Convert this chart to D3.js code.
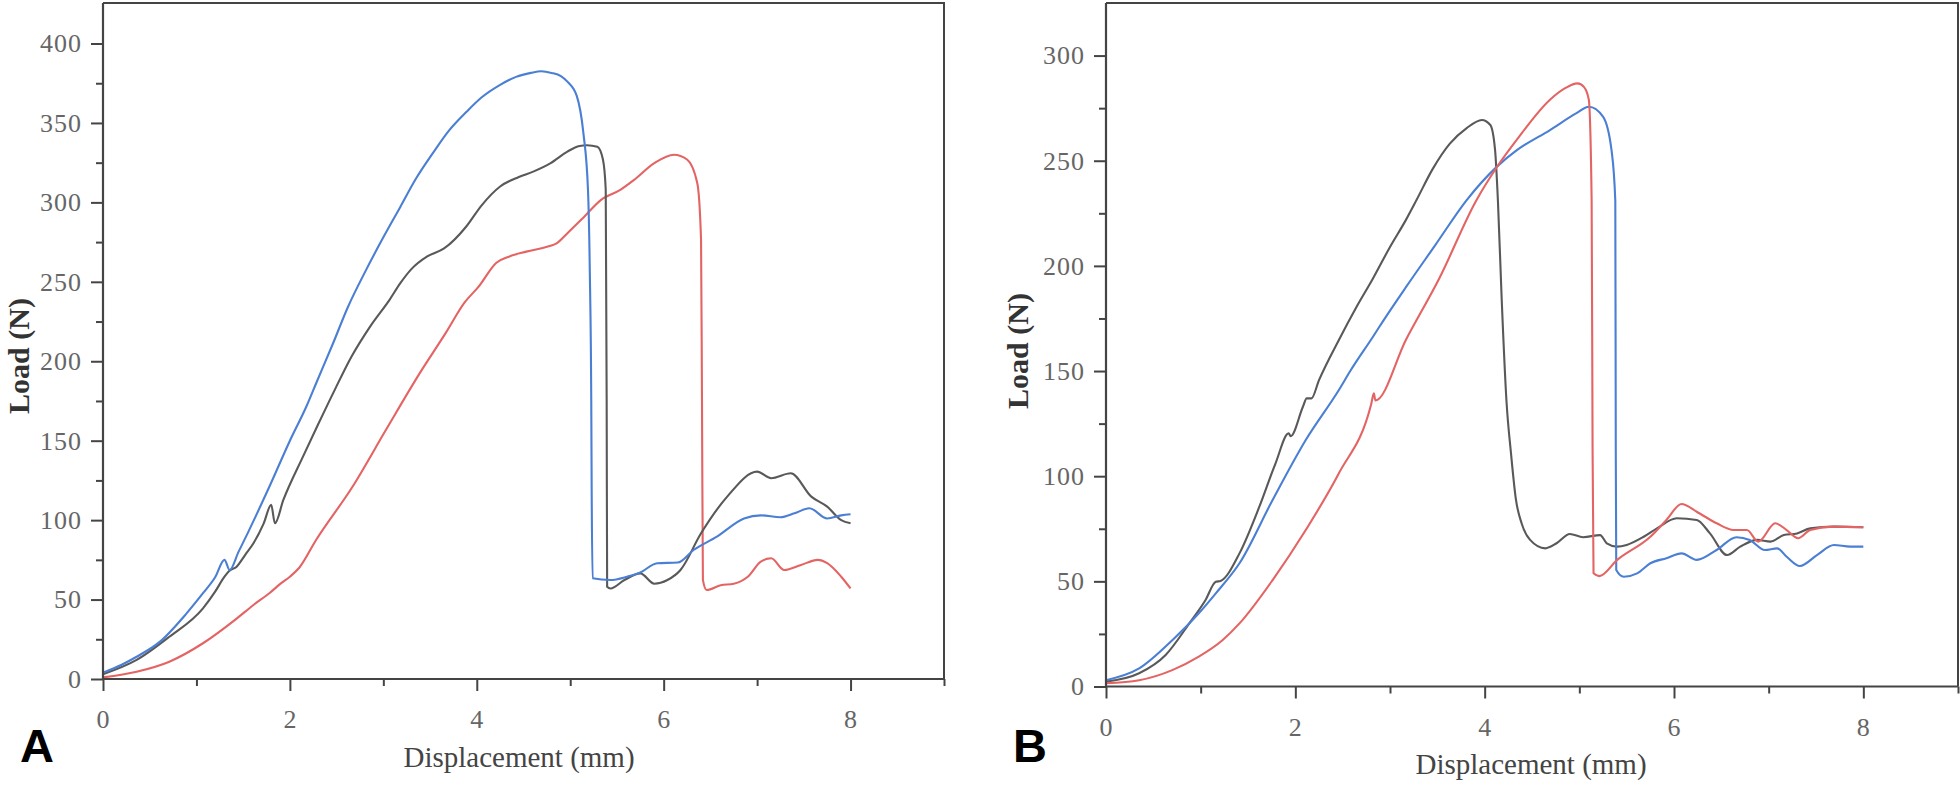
<!DOCTYPE html>
<html>
<head>
<meta charset="utf-8">
<script src="https://cdn.jsdelivr.net/npm/d3@7"></script>
<style>
  html, body { margin: 0; padding: 0; background: #fff; }
  svg { display: block; }
</style>
</head>
<body>
<svg id="chart" width="1960" height="791"></svg>
<script>
// ---------------- DATA ----------------
const xTickValues = [0, 2, 4, 6, 8];
const xMinorTicks = [1, 3, 5, 7, 9];
const aYTickValues = [0, 50, 100, 150, 200, 250, 300, 350, 400];
const aYMinorTicks = [25, 75, 125, 175, 225, 275, 325, 375];
const bYTickValues = [0, 50, 100, 150, 200, 250, 300];
const bYMinorTicks = [25, 75, 125, 175, 225, 275];
const xLabel = "Displacement (mm)";
const yLabel = "Load (N)";

// Panel A curves [displacement mm, load N]
const aBlue = [[0,4],[0.2,9],[0.36,14],[0.61,23.5],[0.89,41],[1.07,54],[1.2,64],[1.30,75],[1.355,68.6],[1.45,80],[1.55,92],[1.78,121],[2.0,150],[2.18,172],[2.28,186],[2.46,211],[2.62,234],[2.82,258],[3.0,278],[3.18,297],[3.35,315],[3.53,331],[3.7,345],[3.89,357],[4.05,366],[4.25,374],[4.42,379],[4.58,381.5],[4.69,382.5],[4.80,381.5],[4.90,379.5],[4.97,376],[5.07,367],[5.14,344],[5.19,308],[5.21,255],[5.225,176],[5.23,115],[5.24,63.4],[5.43,62.3],[5.61,64.4],[5.75,67],[5.93,72.9],[6.15,73.3],[6.32,81.2],[6.57,89.6],[6.86,101],[7.04,103],[7.25,101.8],[7.40,104.3],[7.56,107.5],[7.75,101],[7.90,103],[8.0,103.7]];
const aBlack = [[0,3],[0.36,12],[0.71,26.6],[1.07,44.5],[1.2,55],[1.30,64.4],[1.35,68],[1.43,70.7],[1.52,78],[1.61,85.4],[1.72,98],[1.80,109.6],[1.84,98],[1.93,112.7],[2.14,140],[2.30,160],[2.48,182],[2.66,203],[2.86,222],[3.07,239],[3.18,249],[3.30,258],[3.47,266],[3.65,271],[3.89,285],[4.05,298],[4.25,310],[4.45,316],[4.61,319.5],[4.79,324.7],[4.97,332],[5.10,335.5],[5.18,336],[5.29,335],[5.35,327],[5.38,308],[5.39,176],[5.395,58],[5.43,57],[5.58,62.3],[5.75,66.5],[5.90,60],[6.04,62.3],[6.18,68.6],[6.40,91.7],[6.68,114.8],[7.00,130.5],[7.15,126.4],[7.36,129.5],[7.58,114.8],[7.75,108.5],[7.90,100],[8.0,98]];
const aRed = [[0,1],[0.36,4.6],[0.71,10.9],[1.07,22.5],[1.43,38],[1.61,46.6],[1.78,54],[1.9,60],[2.0,64.4],[2.1,70],[2.28,87.5],[2.67,121],[3.03,157],[3.39,192.5],[3.67,218],[3.87,237],[4.02,247],[4.21,262],[4.35,266],[4.53,269],[4.79,272.7],[4.85,274],[4.97,280.6],[5.15,291],[5.33,301.6],[5.54,308],[5.68,314],[5.90,324.7],[6.11,330],[6.25,327],[6.36,312],[6.40,276.5],[6.41,176],[6.42,62.3],[6.46,56],[6.61,59],[6.75,60],[6.90,64.4],[7.04,73.9],[7.15,76],[7.29,68.6],[7.47,71.8],[7.65,75],[7.75,72.9],[7.90,64.4],[8.0,57]];

// Panel B curves
const bBlack = [[0,2.3],[0.35,6.3],[0.63,15],[0.88,30],[1.05,41],[1.16,49.8],[1.21,50.2],[1.41,63.3],[1.62,85.5],[1.79,106],[1.93,120.4],[1.95,119],[2.08,133],[2.12,137],[2.17,137],[2.25,145.7],[2.46,164.8],[2.64,180],[2.82,194],[3.0,209],[3.17,222],[3.28,231.3],[3.45,246],[3.63,258],[3.81,265.5],[3.97,269.4],[4.06,267],[4.11,255],[4.14,231],[4.18,184],[4.23,136],[4.28,110],[4.33,89],[4.39,77.6],[4.48,69.7],[4.64,65.7],[4.76,68.1],[4.90,72.5],[5.04,71],[5.22,72],[5.29,68.1],[5.40,66.5],[5.50,67.3],[5.68,71.2],[5.82,75.2],[6.03,80],[6.24,79.2],[6.38,72.8],[6.56,62.5],[6.70,66.5],[6.88,69.7],[7.02,68.9],[7.16,72],[7.30,72.8],[7.44,75.2],[7.69,76],[8.0,75.7]];
const bBlue = [[0,3],[0.35,8.6],[0.70,22],[0.98,34.8],[1.16,44.3],[1.41,58.6],[1.76,88.7],[2.11,117.2],[2.46,141],[2.58,150],[2.82,166.3],[2.93,174],[3.17,190],[3.48,210],[3.81,231.3],[4.13,247.2],[4.34,255],[4.69,264.6],[4.97,272.6],[5.10,275.7],[5.25,271],[5.34,255],[5.38,231],[5.385,112],[5.39,55.4],[5.47,52.2],[5.61,53.8],[5.75,58.6],[5.92,61],[6.08,63.3],[6.24,60.2],[6.45,64.9],[6.66,71],[6.80,69.7],[6.96,64.9],[7.09,65.7],[7.19,61.7],[7.33,57.3],[7.51,62.5],[7.69,67.3],[7.86,66.5],[8.0,66.5]];
const bRed = [[0,1.6],[0.35,3],[0.70,7.8],[0.98,14.2],[1.23,22],[1.41,30],[1.76,50.6],[2.11,74.4],[2.46,101.4],[2.80,134],[2.83,139.4],[2.845,136],[3.17,165],[3.52,194],[3.91,231],[4.13,247],[4.34,260],[4.69,279],[4.85,284.5],[4.98,286.8],[5.05,285],[5.10,279],[5.13,231],[5.14,112],[5.15,53.8],[5.21,52.5],[5.40,60.2],[5.75,71.2],[5.92,79.2],[6.08,86.8],[6.24,83.1],[6.45,77.6],[6.63,74.4],[6.77,74.4],[6.89,68.9],[7.07,77.6],[7.19,74.4],[7.31,70.5],[7.44,74.4],[7.69,76],[8.0,75.7]];

const colors = { blue: "#4a7fd4", black: "#595959", red: "#e46464" };

// ---------------- DRAW ----------------
const svg = d3.select("#chart");

function drawPanel(cfg) {
  const g = svg.append("g");
  const x = d3.scaleLinear().domain([0, 9]).range([cfg.left, cfg.right]);
  const y = d3.scaleLinear().domain([0, cfg.yMax]).range([cfg.bottom, cfg.top]);

  // frame (top and right)
  g.append("path")
    .attr("d", `M${cfg.left},${cfg.top}H${cfg.right}V${cfg.bottom}`)
    .attr("fill", "none").attr("stroke", "#444").attr("stroke-width", 2);

  // curves
  const line = d3.line().curve(d3.curveMonotoneX).x(d => x(d[0])).y(d => y(d[1]));
  cfg.series.forEach(s => {
    g.append("path").datum(s.data)
      .attr("d", line)
      .attr("fill", "none")
      .attr("stroke", s.color)
      .attr("stroke-width", 2.1)
      .attr("stroke-linejoin", "round");
  });

  // minor ticks
  g.append("g").attr("transform", `translate(0,${cfg.bottom})`)
    .call(d3.axisBottom(x).tickValues(xMinorTicks).tickSize(7).tickFormat(""))
    .call(a => a.select(".domain").remove())
    .selectAll("line").attr("stroke", "#444").attr("stroke-width", 2);
  g.append("g").attr("transform", `translate(${cfg.left},0)`)
    .call(d3.axisLeft(y).tickValues(cfg.yMinor).tickSize(7).tickFormat(""))
    .call(a => a.select(".domain").remove())
    .selectAll("line").attr("stroke", "#444").attr("stroke-width", 2);

  // major axes
  const xa = g.append("g").attr("transform", `translate(0,${cfg.bottom})`)
    .call(d3.axisBottom(x).tickValues(xTickValues).tickSize(12).tickPadding(19).tickSizeOuter(0));
  const ya = g.append("g").attr("transform", `translate(${cfg.left},0)`)
    .call(d3.axisLeft(y).tickValues(cfg.yTicks).tickSize(12).tickPadding(9).tickSizeOuter(0));
  [xa, ya].forEach(a => {
    a.select(".domain").attr("stroke", "#444").attr("stroke-width", 2.2);
    a.selectAll(".tick line").attr("stroke", "#444").attr("stroke-width", 2);
    a.selectAll(".tick text")
      .attr("fill", "#666")
      .style("font-family", "'Liberation Serif', 'DejaVu Serif', serif")
      .style("font-size", "26px")
      .style("letter-spacing", "1px");
  });
  // extend domain lines to the frame
  xa.select(".domain").attr("d", `M${cfg.left},0H${cfg.right}`);
  ya.select(".domain").attr("d", `M0,${cfg.bottom}V${cfg.top}`);

  // axis titles
  g.append("text")
    .attr("x", cfg.xLabelX).attr("y", cfg.xLabelY)
    .attr("text-anchor", "middle").attr("dominant-baseline", "central")
    .attr("fill", "#444")
    .style("font-family", "'Liberation Serif', serif")
    .style("font-size", "29px")
    .text(xLabel);
  g.append("text")
    .attr("transform", `translate(${cfg.yLabelX},${cfg.yLabelY}) rotate(-90)`)
    .attr("text-anchor", "middle").attr("dominant-baseline", "central")
    .attr("fill", "#333")
    .style("font-family", "'Liberation Serif', serif")
    .style("font-weight", "bold")
    .style("font-size", "30px")
    .text(yLabel);

  // panel letter
  g.append("text")
    .attr("x", cfg.letterX).attr("y", cfg.letterY)
    .attr("fill", "#000")
    .style("font-family", "'Liberation Sans', Arial, sans-serif")
    .style("font-weight", "bold")
    .style("font-size", "47px")
    .text(cfg.letter);
}

drawPanel({
  left: 103, right: 944, top: 3, bottom: 679, yMax: 425.5,
  yTicks: aYTickValues, yMinor: aYMinorTicks,
  series: [
    { data: aRed, color: colors.red },
    { data: aBlack, color: colors.black },
    { data: aBlue, color: colors.blue }
  ],
  xLabelX: 519, xLabelY: 757, yLabelX: 18, yLabelY: 356,
  letter: "A", letterX: 20, letterY: 762
});

drawPanel({
  left: 1106, right: 1958, top: 3, bottom: 686.5, yMax: 325,
  yTicks: bYTickValues, yMinor: bYMinorTicks,
  series: [
    { data: bBlack, color: colors.black },
    { data: bBlue, color: colors.blue },
    { data: bRed, color: colors.red }
  ],
  xLabelX: 1531, xLabelY: 764, yLabelX: 1017, yLabelY: 351,
  letter: "B", letterX: 1013, letterY: 762
});
</script>
</body>
</html>
